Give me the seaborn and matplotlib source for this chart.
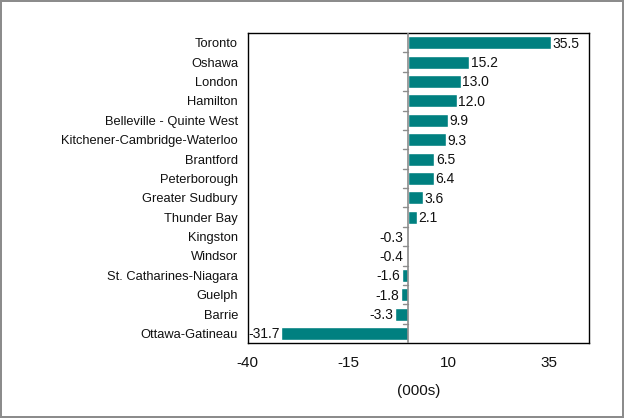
import numpy as np
import pandas as pd
import matplotlib
matplotlib.use('Agg')
import matplotlib.pyplot as plt
import seaborn as sns

cities = ['Toronto', 'Oshawa', 'London', 'Hamilton', 'Belleville - Quinte West',
          'Kitchener-Cambridge-Waterloo', 'Brantford', 'Peterborough', 'Greater Sudbury',
          'Thunder Bay', 'Kingston', 'Windsor', 'St. Catharines-Niagara', 'Guelph',
          'Barrie', 'Ottawa-Gatineau']
values = [35.5, 15.2, 13.0, 12.0, 9.9, 9.3, 6.5, 6.4, 3.6, 2.1,
          -0.3, -0.4, -1.6, -1.8, -3.3, -31.7]
xticks = [-40, -15, 10, 35]

df = pd.DataFrame({'city': cities, 'value': values})

sns.set_style('white')
plt.rcParams['font.family'] = ['Liberation Sans', 'DejaVu Sans']

fig = plt.figure(figsize=(6.24, 4.18), dpi=100)
fig.patch.set_edgecolor('#8c8c8c')
fig.patch.set_linewidth(1.5)
ax = fig.add_axes([0.397, 0.179, 0.547, 0.742])

sns.barplot(data=df, x='value', y='city', color='#008080', saturation=1,
            width=0.67, orient='h', ax=ax)

ax.set_xlim(-40, 45)
ax.set_ylim(len(cities) - 0.5, -0.5)
ax.set_xticks(xticks)
ax.set_xticklabels([str(t) for t in xticks], fontsize=11, color='#111111')
ax.tick_params(axis='x', direction='out', length=4, width=1, color='black', pad=5)
ax.tick_params(axis='y', length=0, labelsize=9.3, pad=7, labelcolor='#111111')
ax.set_ylabel('')
ax.set_xlabel('(000s)', fontsize=11, labelpad=10, color='#111111')

# zero line with small category ticks
ax.axvline(0, color='#8c8c8c', lw=1.2, zorder=3)
for i in range(len(cities) - 1):
    ax.plot([-1.3, 0], [i + 0.5, i + 0.5], color='#8c8c8c', lw=1, zorder=3)

for sp in ax.spines.values():
    sp.set_color('black')
    sp.set_linewidth(1)

for i, v in enumerate(values):
    if v >= 0:
        ax.text(v + 0.4, i + 0.05, f'{v:.1f}', va='center', ha='left', fontsize=10, color='#111111')
    else:
        x = -1.2 if v > -1 else v - 0.4
        ax.text(x, i + 0.05, f'{v:.1f}', va='center', ha='right', fontsize=10, color='#111111')

fig.savefig('out.png', dpi=100, edgecolor=fig.get_edgecolor())
